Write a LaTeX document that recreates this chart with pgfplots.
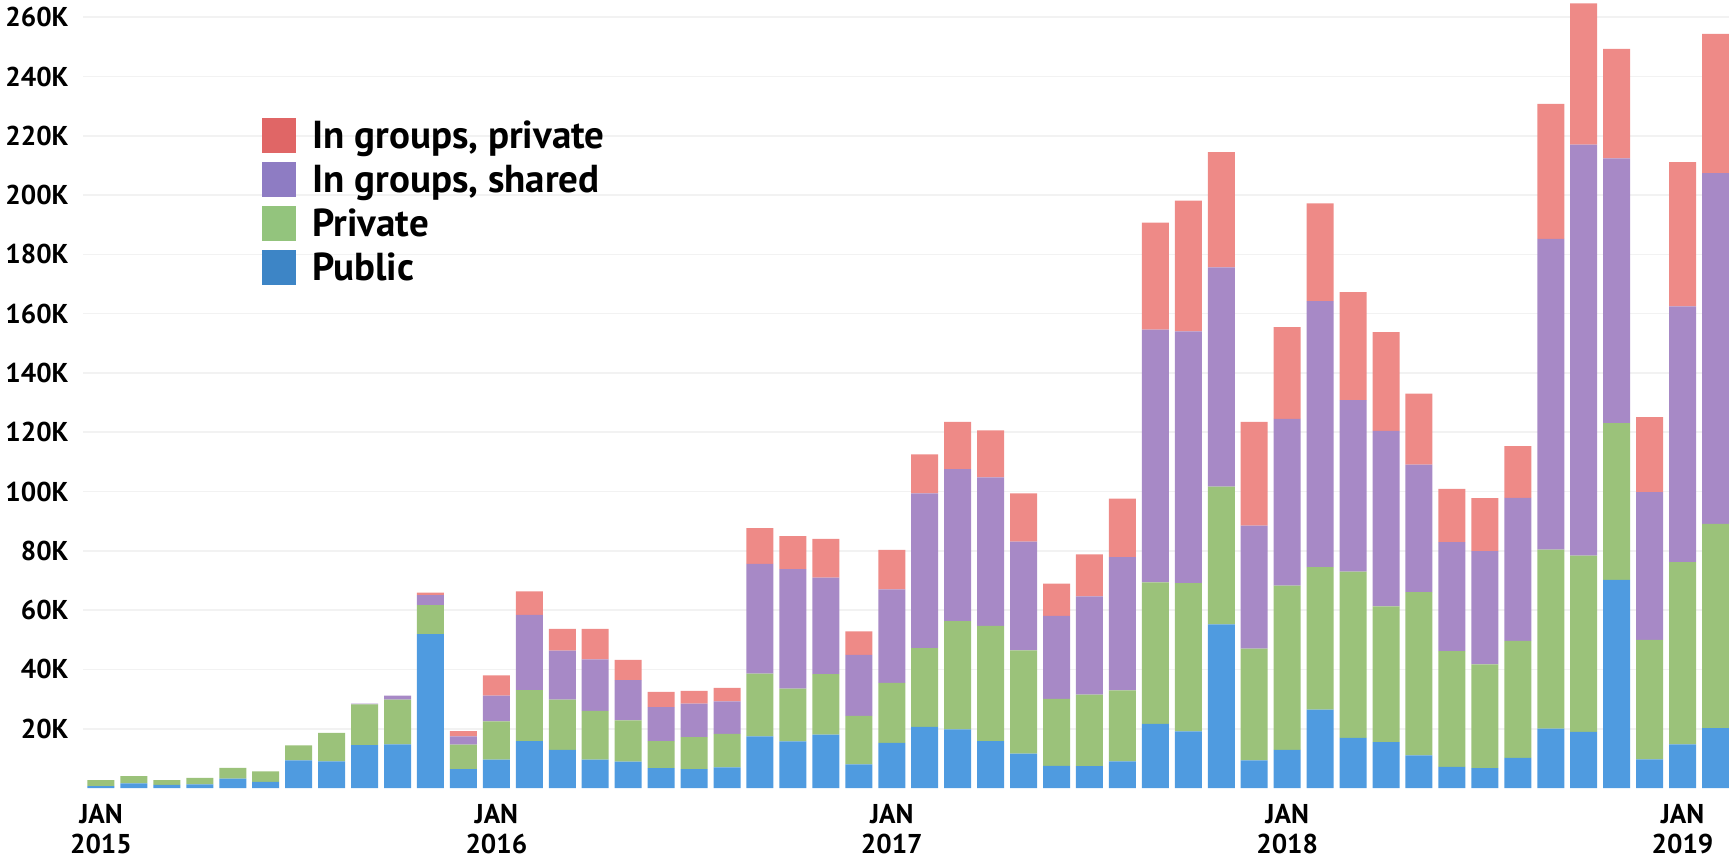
\documentclass[border=0pt]{standalone}
\usepackage{pgfplots}
\usepackage{pgfplotstable}
\usepackage{fontspec}
\setmainfont{PT Sans}
\pgfplotsset{compat=1.18}

\definecolor{legred}{HTML}{E06666}
\definecolor{legpurple}{HTML}{8E7CC3}
\definecolor{leggreen}{HTML}{93C47D}
\definecolor{legblue}{HTML}{3D85C6}
\definecolor{barred}{HTML}{EE8A87}
\definecolor{barpurple}{HTML}{A789C6}
\definecolor{bargreen}{HTML}{9BC27A}
\definecolor{barblue}{HTML}{4F9BE0}

% monthly counts in thousands, Jan 2015 (0) to Feb 2019 (49)
\pgfplotstableread{
x  pub   priv  sh     gp
0  0.6   2.1   0      0
1  1.6   2.4   0      0
2  1.1   1.6   0      0
3  1.2   2.2   0      0
4  3.2   3.6   0      0
5  2.1   3.5   0      0
6  9.3   5.1   0      0
7  9.0   9.6   0      0
8  14.5  13.7  0.3    0
9  14.7  15.1  1.4    0
10 51.9  9.8   3.4    0.8
11 6.4   8.2   2.8    1.8
12 9.6   12.9  8.7    6.8
13 15.8  17.2  25.4   7.9
14 12.9  16.9  16.5   7.4
15 9.6   16.4  17.4   10.3
16 8.9   13.9  13.6   6.8
17 6.7   9.1   11.5   5.1
18 6.4   10.8  11.3   4.3
19 7.0   11.3  10.9   4.6
20 17.4  21.2  37.0   12.1
21 15.7  17.8  40.3   11.2
22 18.0  20.4  32.6   13.0
23 8.0   16.3  20.6   7.9
24 15.2  20.3  31.5   13.3
25 20.6  26.6  52.2   13.1
26 19.8  36.5  51.3   15.9
27 15.8  38.9  50.1   15.8
28 11.6  34.8  36.7   16.3
29 7.5   22.6  28.0   10.8
30 7.4   24.1  33.1   14.2
31 9.0   23.9  45.0   19.7
32 21.6  47.8  85.2   36.1
33 19.1  50.0  84.9   44.1
34 55.2  46.5  73.9   38.9
35 9.3   37.7  41.5   35.0
36 12.9  55.4  56.2   31.0
37 26.4  48.1  89.7   33.0
38 16.9  56.1  57.8   36.5
39 15.5  45.8  59.2   33.3
40 11.0  55.1  43.0   23.9
41 7.1   39.1  36.7   18.0
42 6.7   35.0  38.2   17.9
43 10.2  39.4  48.3   17.4
44 20.0  60.4  104.8  45.6
45 18.9  59.5  138.6  47.7
46 70.2  52.9  89.3   36.9
47 9.7   40.3  49.8   25.3
48 14.7  61.5  86.3   48.6
49 20.2  68.9  118.3  47.0
}\monthly

\pgfplotsset{
    legsq/.style={legend image code/.code={\fill[#1] (0pt,-2.2pt) rectangle (16.5pt,14.8pt);}},
}

\begin{document}
\begin{tikzpicture}
\useasboundingbox (-41.5pt,-35.5pt) rectangle (823pt,394pt);
\begin{axis}[
    at={(0,0)}, anchor=south west,
    width=823pt, height=394pt,
    scale only axis,
    ybar stacked,
    bar width=0.82,
    xmin=-0.546, xmax=49.41,
    ymin=0, ymax=265.8,
    axis line style={draw=none},
    major tick length=0pt,
    ytick={20,40,...,260},
    yticklabels={20K,40K,60K,80K,100K,120K,140K,160K,180K,200K,220K,240K,260K},
    yticklabel style={font=\fontsize{13.6}{16}\selectfont\bfseries, inner sep=0pt, xshift=-7pt},
    xtick={0,12,24,36,48},
    xticklabels={JAN\\2015,JAN\\2016,JAN\\2017,JAN\\2018,JAN\\2019},
    xticklabel style={font=\fontsize{13.6}{15}\selectfont\bfseries, align=center, inner sep=0pt, yshift=-8pt},
    ymajorgrids,
    grid style={black!5, line width=0.8pt},
    legend style={at={(rel axis cs:0.1088,0.8503)}, anchor=north west,
        draw=none, fill=none, inner sep=0pt, row sep=4.6pt,
        font=\fontsize{19.5}{23}\selectfont\bfseries,
        nodes={inner sep=0pt, anchor=base west},
        /tikz/every odd column/.append style={column sep=8pt}},
    legend cell align=left,
]
\addlegendimage{legsq=legred}
\addlegendentry{In groups, private}
\addlegendimage{legsq=legpurple}
\addlegendentry{In groups, shared}
\addlegendimage{legsq=leggreen}
\addlegendentry{Private}
\addlegendimage{legsq=legblue}
\addlegendentry{Public}

\addplot[fill=barblue, draw=none, forget plot] table[x=x, y=pub] {\monthly};
\addplot[fill=bargreen, draw=none, forget plot] table[x=x, y=priv] {\monthly};
\addplot[fill=barpurple, draw=none, forget plot] table[x=x, y=sh] {\monthly};
\addplot[fill=barred, draw=none, forget plot] table[x=x, y=gp] {\monthly};
\end{axis}
\end{tikzpicture}
\end{document}
